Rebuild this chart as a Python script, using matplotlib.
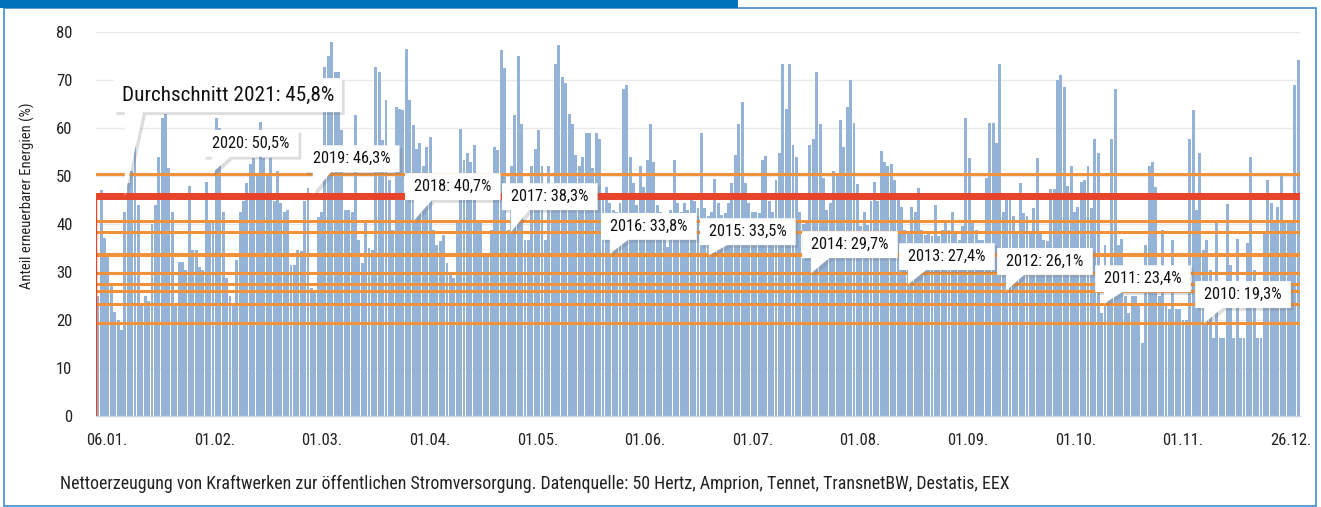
import matplotlib
matplotlib.use("Agg")
import matplotlib.pyplot as plt
import numpy as np
from matplotlib.patches import Rectangle, Polygon
import matplotlib.patheffects as pe

plt.rcParams['font.family'] = ['Roboto Condensed', 'Archivo Narrow', 'Asap Condensed', 'DejaVu Sans']

# ---- data: daily share of renewables 2021 (%), 06.01. - 26.12.
share_jan_mar = [25, 47, 37, 34, 27, 21.6, 20, 18, 42.6, 48.5, 51, 56.4, 44, 23, 25, 24, 40, 44, 54, 62,
                 63, 51.6, 42.6, 23, 32, 32, 30.5, 48, 34.6, 34.6, 31, 30.5, 48.8, 40.5, 40.5, 62, 60, 42.6,
                 28.7, 25, 23.5, 32.5, 42.6, 44.7, 48.5, 52.6, 53.7, 50, 61.3, 53.7, 50, 53.7, 44.7, 51, 44.3,
                 42.6, 43, 31.5, 31.5, 34.6, 34.3, 44.7, 47.4, 26.7, 26.3, 41.5, 42.6, 72.7, 75, 78, 71.7,
                 71.7, 59.5]
share_mar_may = [43, 43, 42.6, 62.7, 36.7, 31.9, 40.5, 35, 34.6, 72.7, 71.7, 57.5, 65.8, 49.2, 38.8, 64.4,
                 64, 63.7, 76.5, 65.8, 60.6, 55.7, 56.8, 52, 56, 58.2, 38.8, 35.7, 36.4, 37.7, 31.9, 30.1,
                 28.7, 40.5, 59.7, 53.3, 54.7, 53, 56.4, 40.5, 40.5, 33.9, 33.2, 38.8, 56, 55.4, 76.2, 72.4,
                 38.8, 52, 62.7, 75.1, 60.9, 36.7, 36.7, 52, 55.7, 59.6, 52, 36.7, 52, 48.5, 73.4, 77.2,
                 70.6, 69.3, 63, 60.9, 54.4, 52, 54, 58.9, 58.9]
share_may_aug = [51.6, 58.9, 57.8, 45, 47.8, 44.3, 43, 42.6, 44.3, 68.2, 68.9, 54, 48.5, 44, 52, 47.8, 53.3,
                 60.9, 53, 44, 42.6, 37.4, 35.3, 43, 53.3, 44.3, 42.6, 44.3, 43, 46.4, 44.7, 43.3, 58.9,
                 43.3, 41.6, 42.6, 49.4, 44.3, 41.9, 42.2, 44.3, 48.5, 54.4, 60.9, 65.4, 48.5, 44.3, 42.6,
                 42.6, 42.2, 53.3, 54.2, 44.7, 42.6, 49.2, 54.7, 73.4, 64, 73.4, 56.4, 54, 42.6, 40, 40.2,
                 56.4, 57.8, 71.7, 60.9, 49.5, 43, 44.3, 51]
share_aug_oct = [49.9, 61.6, 56, 64.4, 70, 61, 48.3, 39.5, 42.6, 39.8, 44.7, 48.8, 44.7, 55.3, 53, 52, 52.6,
                 49.2, 46, 43.6, 38.8, 38.4, 43.6, 42.6, 47.4, 38.8, 37.7, 38.1, 37.4, 44, 37.4, 38.8,
                 40.7, 38.8, 42.4, 38.1, 36.7, 39.5, 62, 53.7, 40.2, 38.8, 36.7, 36.7, 49.5, 61, 61, 56.8,
                 73.4, 42.6, 45.4, 46, 41.6, 38.1, 48.5, 42.2, 41.6, 38.1, 43.3, 53.7, 38.1, 36.7, 36.4,
                 47.2, 47.2, 70, 71, 68.6, 48, 52, 42.6, 43.6]
share_oct_dec = [48.8, 49.2, 52, 43.3, 57.8, 54.7, 21.5, 35.7, 25, 57.8, 68.2, 35.7, 36.8, 25, 21.5, 25, 25,
                 22.9, 15.2, 35.7, 52, 53, 47.8, 25, 38.8, 22.9, 22.2, 36.7, 22.2, 22.2, 20.1, 20.1, 57.8,
                 63.7, 42.9, 54.7, 34.6, 36.7, 30.5, 16.3, 40.7, 16.3, 16.3, 44.1, 31.5, 16.3, 36.8, 16.3,
                 16.3, 36, 54, 30.5, 16.3, 16.3, 38.1, 49.2, 44.3, 40.5, 43.6, 49.9, 40.5, 40.2, 40.5,
                 68.9, 74.2]
daily_share = share_jan_mar + share_mar_may + share_may_aug + share_aug_oct + share_oct_dec

x_tick_labels = ['06.01.', '01.02.', '01.03.', '01.04.', '01.05.', '01.06.', '01.07.', '01.08.',
                 '01.09.', '01.10.', '01.11.', '26.12.']
avg_years = [2020, 2019, 2018, 2017, 2016, 2015, 2014, 2013, 2012, 2011, 2010]
avg_values = [50.5, 46.3, 40.7, 38.3, 33.8, 33.5, 29.7, 27.4, 26.1, 23.4, 19.3]
avg_2021 = 45.8

# ---- layout (positions of callouts, in axis units)
callout_left = [31, 60.8, 90.6, 119.2, 148.4, 177.6, 207.7, 236.3, 265.2, 294.1, 323.6]
callout_bottom = [54, 50.8, 45, 42.9, 36.7, 35.6, 32.9, 30.4, 29.4, 25.8, 22.5]

W, H = 1321, 507
fig = plt.figure(figsize=(W / 100, H / 100), dpi=100)
fig.patch.set_facecolor('white')

# frame and header bar
fig.patches.append(Rectangle((3.5 / W, 1.5 / H), (1316 - 3.5) / W, (H - 8 - 1.5) / H,
                             transform=fig.transFigure, fill=False, ec='#3d8fd1', lw=1.2))
fig.patches.append(Rectangle((0, (H - 8) / H), 738 / W, 8 / H, transform=fig.transFigure,
                             fc='#0072bc', ec='none'))

ax = fig.add_axes([96 / W, (H - 416) / H, 1204 / W, 384 / H])
n = len(daily_share)
x = np.arange(n)
ax.bar(x, daily_share, width=0.86, color='#95b3d7', linewidth=0, zorder=2)
ax.set_xlim(-0.5, n - 0.5)
ax.set_ylim(0, 80)
ax.set_yticks(np.arange(0, 81, 10))
ax.yaxis.grid(True, color='#e9e9e9', lw=1.0, zorder=0)
ax.set_axisbelow(True)
for s in ['top', 'right', 'left']:
    ax.spines[s].set_visible(False)
ax.spines['bottom'].set_color('#c9d6e8')
ax.spines['bottom'].set_linewidth(1.0)

ax.set_xticks(np.linspace(2.75, n - 3.3, len(x_tick_labels)))
ax.set_xticklabels(x_tick_labels)
ax.tick_params(axis='x', length=0, pad=12, labelsize=12, labelcolor='#222222')
ax.tick_params(axis='y', length=0, pad=17, labelsize=12, labelcolor='#222222')

# average lines
for v in avg_values:
    ax.axhline(v, color='#f0913c', lw=2.2, zorder=3)
ax.axhline(avg_2021, color='#e8432b', lw=5, zorder=4)
ax.plot([-0.45, -0.45], [0, avg_2021], color='#e8432b', lw=1.0, zorder=4)

shadow = [pe.SimplePatchShadow(offset=(2, -2), shadow_rgbFace='#666666', alpha=0.22), pe.Normal()]


def callout(left, bottom, w, h, tip_x, tip_y, base_w, text, size):
    verts = [(left, bottom + h), (left, bottom), (tip_x, bottom), (tip_x, tip_y),
             (tip_x + base_w, bottom), (left + w, bottom), (left + w, bottom + h)]
    poly = Polygon(verts, closed=True, fc='white', ec='none', zorder=6)
    poly.set_path_effects(shadow)
    ax.add_patch(poly)
    ax.text(left + w / 2, bottom + h / 2, text, ha='center', va='center', fontsize=size,
            color='#111111', zorder=7)


for yr, v, lft, btm in zip(avg_years, avg_values, callout_left, callout_bottom):
    label = f"{yr}: {v:.1f}%".replace('.', ',')
    callout(lft, btm, 28.2, 5.6, lft + 2.6, v, 5.4, label, 11.8)

callout(4.7, 63.3, 67.3, 7.1, 8.0, avg_2021, 5.4,
        f"Durchschnitt 2021: {avg_2021:.1f}%".replace('.', ','), 15.3)

fig.text(27 / W, (H - 196) / H, 'Anteil erneuerbarer Energien (%)', rotation=90,
         ha='center', va='center', fontsize=10.5, color='#222222')
fig.text(60 / W, (H - 484) / H,
         'Nettoerzeugung von Kraftwerken zur öffentlichen Stromversorgung. '
         'Datenquelle: 50 Hertz, Amprion, Tennet, TransnetBW, Destatis, EEX',
         ha='left', va='center', fontsize=12.9, color='#222222')

fig.savefig('out.png', dpi=100, facecolor='white')
